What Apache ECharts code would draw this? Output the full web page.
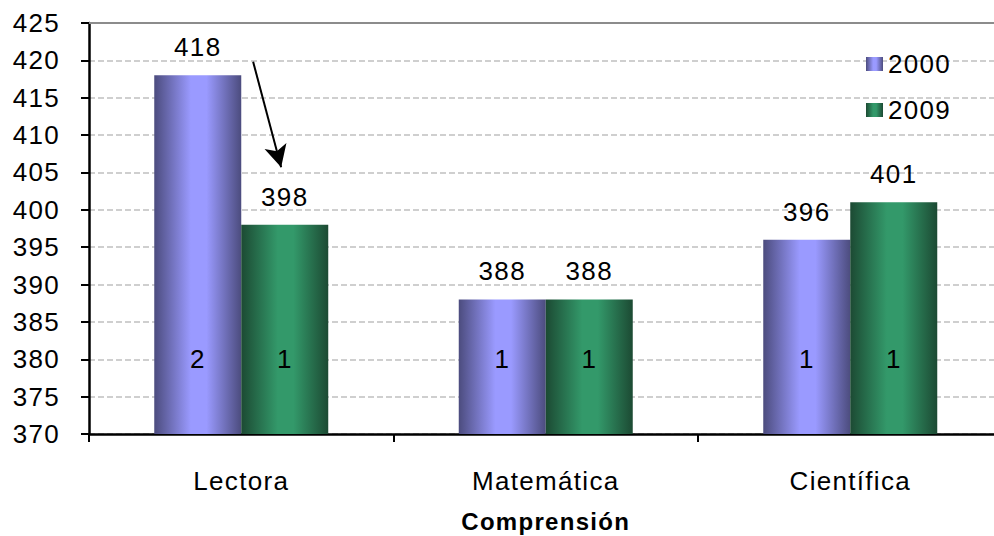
<!DOCTYPE html>
<html>
<head>
<meta charset="utf-8">
<script src="https://cdn.jsdelivr.net/npm/echarts@6/dist/echarts.min.js"></script>
<style>html,body{margin:0;padding:0;background:#fff;}#c{width:994px;height:536px;}#c text{letter-spacing:1.3px;}</style>
</head>
<body>
<div id="c"></div>
<script>
var categories = ['Lectora', 'Matemática', 'Científica'];
var years = ['2000', '2009'];
var values2000 = [418, 388, 396];
var values2009 = [398, 388, 401];
var rank2000 = [2, 1, 1];
var rank2009 = [1, 1, 1];
var rankLevel = [380, 380, 380];
var yTicks = [370, 425, 5];
// arrow annotation (category-position units, score)
var arrowFrom = [0.539, 419.8];
var arrowTo = [0.631, 405.7];

var FONT = 'Liberation Sans, Arial, sans-serif';
function grad(dark, light) {
  return new echarts.graphic.LinearGradient(0, 0, 1, 0, [
    {offset: 0, color: dark},
    {offset: 0.42, color: light},
    {offset: 0.6, color: light},
    {offset: 1, color: dark}
  ]);
}
var c2000 = grad('#4c4c7e', '#9a9aff');
var c2009 = grad('#1c4a33', '#33996a');

var chart = echarts.init(document.getElementById('c'), null, {renderer: 'svg'});
var topLabel = {show: true, position: 'top', distance: 15, color: '#000', fontFamily: FONT, fontSize: 26};
function rankLabel(arr) {
  return {show: true, position: ['50%', 0], align: 'center', verticalAlign: 'middle', color: '#000', fontFamily: FONT, fontSize: 26,
    formatter: function (p) { return String(arr[p.dataIndex]); }};
}
chart.setOption({
  animation: false,
  backgroundColor: '#fff',
  grid: {left: 89, right: -8.5, top: 23, bottom: 102, containLabel: false, outerBoundsMode: 'none'},
  legend: {
    orient: 'vertical', left: 861, top: 46, itemWidth: 17, itemHeight: 14, itemGap: 20,
    icon: 'rect', data: years,
    textStyle: {color: '#000', fontFamily: FONT, fontSize: 26}
  },
  xAxis: [{
    type: 'category', data: categories,
    axisLine: {lineStyle: {color: '#000', width: 2.5}},
    axisTick: {show: true, length: 8, lineStyle: {color: '#000', width: 2}},
    axisLabel: {color: '#000', fontFamily: FONT, fontSize: 26, margin: 34},
    name: 'Comprensión', nameLocation: 'middle', nameGap: 75,
    nameTextStyle: {color: '#000', fontFamily: FONT, fontSize: 24, fontWeight: 'bold'}
  }, {
    type: 'category', data: categories, position: 'top',
    axisLine: {show: true, lineStyle: {color: '#8c8c8c', width: 2}},
    axisTick: {show: false}, axisLabel: {show: false}, splitLine: {show: false}
  }, {
    type: 'value', min: 0, max: 3, show: false
  }],
  yAxis: {
    type: 'value', min: yTicks[0], max: yTicks[1], interval: yTicks[2],
    axisLine: {show: true, lineStyle: {color: '#000', width: 2.5}},
    axisTick: {show: true, length: 8, lineStyle: {color: '#000', width: 2}},
    axisLabel: {color: '#000', fontFamily: FONT, fontSize: 26, margin: 29},
    splitLine: {show: true, lineStyle: {color: '#c0c0c0', width: 1.6, type: [6, 3]}}
  },
  series: [{
    name: years[0], type: 'bar', data: values2000, barWidth: 87, barGap: '0%',
    itemStyle: {color: c2000}, label: topLabel
  }, {
    name: years[1], type: 'bar', data: values2009, barWidth: 87, barGap: '0%',
    itemStyle: {color: c2009}, label: topLabel
  }, {
    name: 'r2000', type: 'bar', xAxisIndex: 1, data: rankLevel, barWidth: 87, barGap: '0%', silent: true,
    itemStyle: {color: 'rgba(0,0,0,0)'}, label: rankLabel(rank2000)
  }, {
    name: 'r2009', type: 'bar', xAxisIndex: 1, data: rankLevel, barWidth: 87, barGap: '0%', silent: true,
    itemStyle: {color: 'rgba(0,0,0,0)'}, label: rankLabel(rank2009)
  }, {
    name: 'arrow', type: 'line', xAxisIndex: 2, data: [], silent: true,
    markLine: {
      silent: true, symbol: ['none', 'arrow'], symbolSize: [17, 22],
      label: {show: false},
      lineStyle: {color: '#000', width: 2, type: 'solid'},
      data: [[{coord: arrowFrom}, {coord: arrowTo}]]
    }
  }]
});
</script>
</body>
</html>
